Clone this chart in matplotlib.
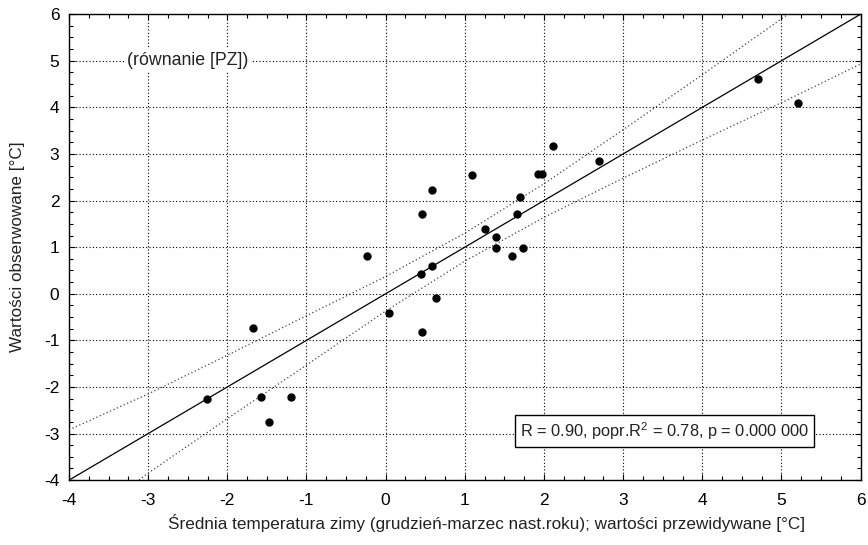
#! /usr/bin/env python3
#
import matplotlib
matplotlib.use('Agg')
import matplotlib.pyplot as plt
from matplotlib.ticker import MultipleLocator

#
#  Predicted (x) and observed (y) winter temperatures.
#
predicted = [-2.26, -1.68, -1.58, -1.47, -1.20, -0.23, 0.04, 0.46, 0.45,
             0.59, 0.64, 0.46, 0.58, 1.09, 1.26, 1.40, 1.40, 1.59, 1.74,
             1.66, 1.70, 1.92, 1.97, 2.11, 2.70, 4.70, 5.21]
observed = [-2.26, -0.73, -2.22, -2.75, -2.22, 0.82, -0.42, -0.83, 0.43,
            0.60, -0.10, 1.71, 2.23, 2.54, 1.38, 1.21, 0.99, 0.80, 0.99,
            1.71, 2.07, 2.56, 2.56, 3.17, 2.84, 4.60, 4.09]

#
#  Regression line and 95% confidence band.
#
fit_x = [-4, 6]
fit_y = [-4, 6]
band_x = [-4, -3, -2, -1, 0, 1, 2, 3, 4, 5, 6]
band_upper = [-2.92, -2.15, -1.32, -0.47, 0.37, 1.30, 2.36, 3.52, 4.70, 5.90, 7.07]
band_lower = [-5.08, -3.85, -2.68, -1.53, -0.37, 0.70, 1.64, 2.48, 3.30, 4.10, 4.93]

stats_text = 'R = 0.90, popr.R$^2$ = 0.78, p = 0.000 000'
eq_text = '(równanie [PZ])'
x_label = 'Średnia temperatura zimy (grudzień-marzec nast.roku); wartości przewidywane [°C]'
y_label = 'Wartości obserwowane [°C]'


def main():
    plt.rcParams['font.family'] = ['Liberation Sans', 'DejaVu Sans']
    plt.rcParams['mathtext.fontset'] = 'custom'
    plt.rcParams['mathtext.rm'] = 'Liberation Sans'
    plt.rcParams['axes.unicode_minus'] = False
    plt.rcParams['font.size'] = 12

    fig = plt.figure(figsize=(8.68, 5.45), dpi=100)
    ax = fig.add_axes([0.0795, 0.119, 0.912, 0.855])

    ax.plot(fit_x, fit_y, color='black', lw=0.9, zorder=3)
    ax.plot(band_x, band_upper, color='#444444', lw=0.9,
            linestyle=(0, (1, 2)), zorder=3)
    ax.plot(band_x, band_lower, color='#444444', lw=0.9,
            linestyle=(0, (1, 2)), zorder=3)
    ax.plot(predicted, observed, 'o', color='black', markersize=5, zorder=4)

    ax.set_xlim(-4, 6)
    ax.set_ylim(-4, 6)
    ax.xaxis.set_major_locator(MultipleLocator(1))
    ax.yaxis.set_major_locator(MultipleLocator(1))
    ax.xaxis.set_minor_locator(MultipleLocator(0.25))
    ax.yaxis.set_minor_locator(MultipleLocator(0.25))
    ax.tick_params(which='both', direction='in', top=True, right=True,
                   color='black', width=0.8)
    ax.tick_params(which='major', length=4)
    ax.tick_params(which='minor', length=3)
    ax.tick_params(axis='x', which='major', pad=9, labelsize=12.5)
    ax.tick_params(axis='y', which='major', pad=7, labelsize=12.5)

    ax.grid(True, which='major', color='black', lw=0.8, linestyle=(0, (1, 2)))
    for s in ax.spines.values():
        s.set_linewidth(1.0)

    ax.set_xlabel(x_label, fontsize=12.3, color='#222222')
    ax.set_ylabel(y_label, fontsize=12.3, color='#222222')
    ax.xaxis.set_label_coords(0.527, -0.072)
    ax.yaxis.set_label_coords(-0.056, 0.5)

    ax.text(-3.27, 5, eq_text, ha='left', va='center', fontsize=12.8,
            color='#222222', zorder=5,
            bbox=dict(facecolor='white', edgecolor='none', pad=2))
    ax.text(3.52, -2.95, stats_text, ha='center', va='center', fontsize=11.8,
            color='#222222', zorder=5,
            bbox=dict(facecolor='white', edgecolor='black', lw=1.0,
                      boxstyle='square,pad=0.3'))

    fig.savefig('out.png', dpi=100)


if (__name__ == '__main__'):
    main()
